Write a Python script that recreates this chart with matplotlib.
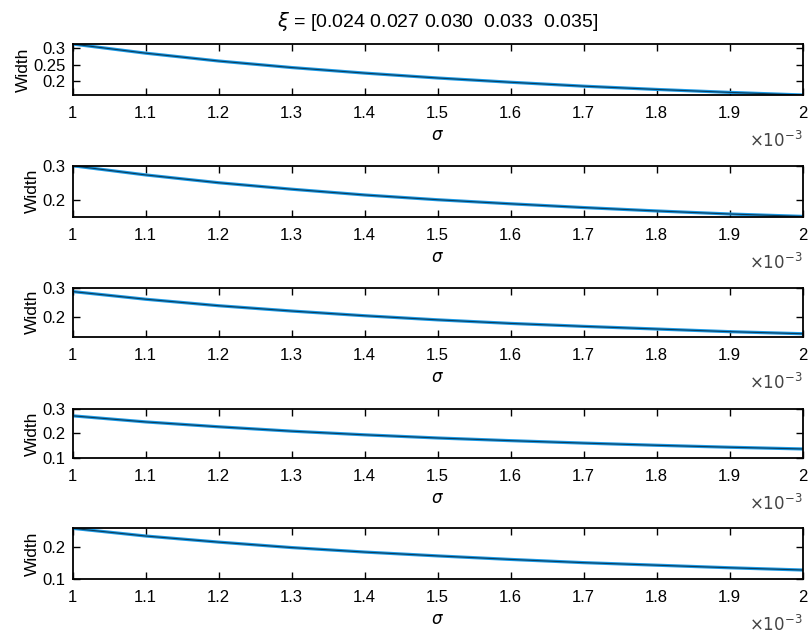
import numpy as np
import matplotlib.pyplot as plt
from matplotlib.ticker import FuncFormatter

plt.rcParams['font.family'] = ['Liberation Sans', 'DejaVu Sans']

# sigma values (same grid on every panel)
sigma = np.array([1.0, 1.1, 1.2, 1.3, 1.4, 1.5, 1.6, 1.7, 1.8, 1.9, 2.0]) * 1e-3

# width, xi = 0.024 ... 0.035
width_1 = [0.313, 0.285, 0.261, 0.241, 0.224, 0.209, 0.196, 0.184, 0.174, 0.165, 0.157]
width_2 = [0.300, 0.273, 0.250, 0.231, 0.214, 0.200, 0.188, 0.177, 0.167, 0.158, 0.151]
width_3 = [0.287, 0.261, 0.239, 0.221, 0.205, 0.191, 0.179, 0.169, 0.160, 0.151, 0.144]
width_4 = [0.272, 0.247, 0.227, 0.209, 0.194, 0.181, 0.170, 0.160, 0.151, 0.143, 0.136]
width_5 = [0.259, 0.235, 0.216, 0.199, 0.185, 0.173, 0.162, 0.152, 0.144, 0.136, 0.129]
widths = [width_1, width_2, width_3, width_4, width_5]

ylims = [(0.157, 0.313), (0.150, 0.300), (0.134, 0.300), (0.100, 0.300), (0.100, 0.259)]
yticks = [[0.2, 0.25, 0.3], [0.2, 0.3], [0.2, 0.3], [0.1, 0.2, 0.3], [0.1, 0.2]]

title = r'$\xi$ = [0.024 0.027 0.030  0.033  0.035]'

fig = plt.figure(figsize=(8.08, 6.35), dpi=100)

# axes boxes in figure fractions: (bottom, top)
boxes = [(0.8504, 0.9307), (0.6587, 0.7390), (0.4698, 0.5469),
         (0.2792, 0.3559), (0.0877, 0.1680)]
left, width = 0.0898, 0.9036

for i, (w, (b, t)) in enumerate(zip(widths, boxes)):
    ax = fig.add_axes([left, b, width, t - b])
    ax.plot(sigma, w, color='#1c9ae6', lw=2.3)
    ax.plot(sigma, w, color='black', lw=0.8, alpha=0.6)
    ax.set_xlim(sigma[0], sigma[-1])
    ax.set_ylim(*ylims[i])
    ax.set_xticks(sigma)
    ax.set_yticks(yticks[i])
    ax.xaxis.set_major_formatter(FuncFormatter(lambda v, p: f'{v*1e3:g}'))
    ax.yaxis.set_major_formatter(FuncFormatter(lambda v, p: f'{v:g}'))
    ax.tick_params(direction='in', top=True, right=True, length=5, width=1,
                   labelsize=12, pad=8)
    ax.tick_params(axis='y', pad=5)
    for s in ax.spines.values():
        s.set_linewidth(1.3)
    ax.set_xlabel(r'$\sigma$', fontsize=12, labelpad=5)
    ax.set_ylabel('Width', fontsize=12.5, labelpad=2)
    # offset label placed a fixed distance below each axes
    ax.annotate(r'$\times 10^{-3}$', xy=(1.0, 0.0), xycoords='axes fraction',
                xytext=(0, -52), textcoords='offset pixels',
                ha='right', va='baseline', fontsize=12, color='#444444')
    if i == 0:
        ax.set_title(title, fontsize=14, pad=12)

fig.savefig('out.png', dpi=100)
